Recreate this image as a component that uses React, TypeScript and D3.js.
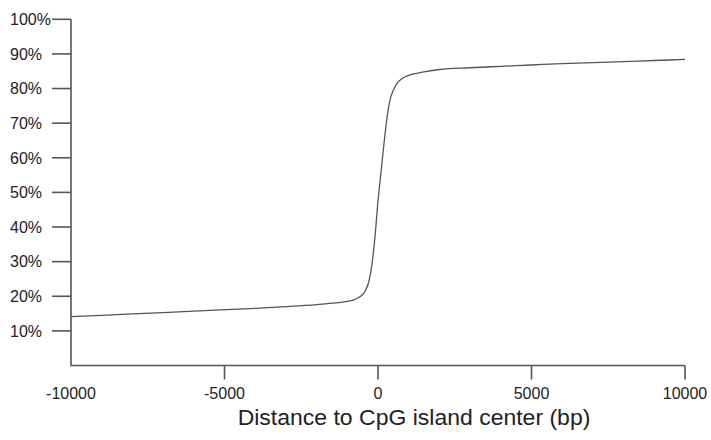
import React from "react";
import * as d3 from "d3";

const positions = [-10000, -8000, -6000, -4000, -3000, -2000, -1500, -1000, -750, -500, -400, -300, -200, -100, 0, 100, 200, 300, 400, 500, 600, 800, 1000, 1500, 2000, 3000, 4000, 5000, 6000, 7000, 8000, 9000, 10000];
const methylation = [0.141, 0.149, 0.157, 0.165, 0.17, 0.176, 0.18, 0.185, 0.191, 0.205, 0.218, 0.242, 0.29, 0.37, 0.475, 0.56, 0.645, 0.72, 0.77, 0.795, 0.812, 0.83, 0.838, 0.848, 0.855, 0.86, 0.864, 0.868, 0.872, 0.875, 0.878, 0.881, 0.884];
const xTicks = [-10000, -5000, 0, 5000, 10000];
const yTicks = [0.1, 0.2, 0.3, 0.4, 0.5, 0.6, 0.7, 0.8, 0.9, 1.0];
const xTitle = "Distance to CpG island center (bp)";

export default function App() {
  const W = 711, H = 440;
  const x = d3.scaleLinear().domain([-10000, 10000]).range([71, 685]);
  const y = d3.scaleLinear().domain([0, 1]).range([365.5, 19.3]);
  const data = positions.map((p, i) => [p, methylation[i]] as [number, number]);
  const line = d3.line<[number, number]>().x(d => x(d[0])).y(d => y(d[1])).curve(d3.curveMonotoneX);
  const axisColor = "#555";
  const textColor = "#222";
  const font = "Liberation Sans, Arial, Helvetica, sans-serif";
  return (
    <svg width={W} height={H} style={{ position: "absolute", left: 0, top: 0, background: "#fff" }} fontFamily={font}>
      <rect width={W} height={H} fill="#fff" />
      <path d={`M${x(-10000)},${y(1)} V${y(0)} H${x(10000)}`} fill="none" stroke={axisColor} strokeWidth={1.6} />
      {yTicks.map(t => (
        <g key={t}>
          <line x1={52} x2={x(-10000)} y1={y(t)} y2={y(t)} stroke={axisColor} strokeWidth={1.6} />
          <text x={10} y={y(t)} dy="0.36em" fontSize={16} fill={textColor}>
            {Math.round(t * 100) + "%"}
          </text>
        </g>
      ))}
      {xTicks.map(t => (
        <g key={t}>
          {t !== -10000 && <line x1={x(t)} x2={x(t)} y1={y(0)} y2={y(0) + 14} stroke={axisColor} strokeWidth={1.6} />}
          <text x={x(t)} y={399} textAnchor="middle" fontSize={16} fill={textColor}>
            {t}
          </text>
        </g>
      ))}
      <text x={414} y={425} textAnchor="middle" fontSize={21.5} fill={textColor} transform={`translate(414,0) scale(1.07,1) translate(-414,0)`}>
        {xTitle}
      </text>
      <path d={line(data) || ""} fill="none" stroke="#555" strokeWidth={1.3} />
    </svg>
  );
}
